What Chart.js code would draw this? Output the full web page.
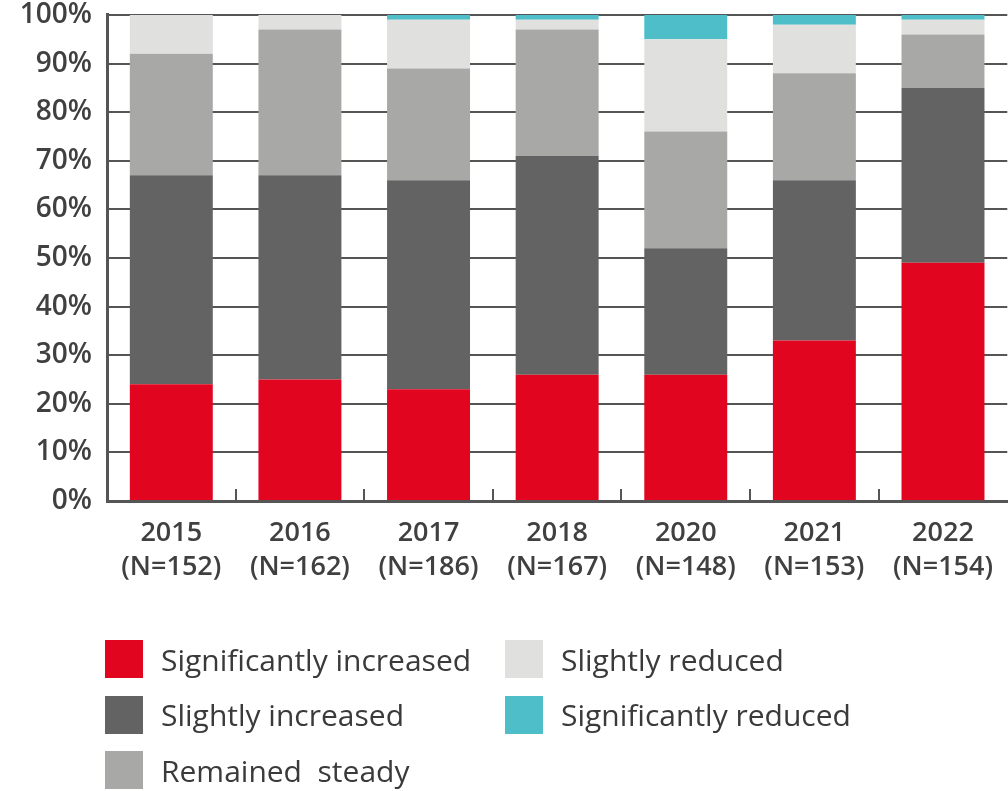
<!DOCTYPE html>
<html>
<head>
<meta charset="utf-8">
<script src="https://cdn.jsdelivr.net/npm/chart.js@4.4.1/dist/chart.umd.min.js"></script>
<style>
  html, body { margin: 0; padding: 0; background: #fff; }
  #wrap { position: relative; width: 1008px; height: 791px; }
  #legend {
    position: absolute; left: 105px; top: 640px;
    display: grid; grid-template-columns: 400px auto;
    grid-auto-rows: 38px; row-gap: 17.5px;
    font-family: "Open Sans", sans-serif; font-size: 30px; font-weight: 500; color: #3a3a3a;
  }
  .item { display: flex; align-items: center; white-space: pre; }
  .box { width: 38px; height: 38px; margin-right: 18px; flex: none; }
</style>
</head>
<body>
<div id="wrap">
  <canvas id="chart" width="1008" height="791"></canvas>
  <div id="legend"></div>
</div>
<script>
const years = ['2015', '2016', '2017', '2018', '2020', '2021', '2022'];
const sampleSizes = ['(N=152)', '(N=162)', '(N=186)', '(N=167)', '(N=148)', '(N=153)', '(N=154)'];

const significantlyIncreased = [24, 25, 23, 26, 26, 33, 49];
const slightlyIncreased = [43, 42, 43, 45, 26, 33, 36];
const remainedSteady = [25, 30, 23, 26, 24, 22, 11];
const slightlyReduced = [8, 3, 10, 2, 19, 10, 3];
const significantlyReduced = [0, 0, 1, 1, 5, 2, 1];

const yTicks = [0, 10, 20, 30, 40, 50, 60, 70, 80, 90, 100];

// legend reads down the first column, then the second
const legendOrder = [0, 3, 1, 4, 2];

const textColor = '#404040';
const axisColor = '#555';

// short upward ticks on the x axis between the bars
const betweenTicks = {
  id: 'betweenTicks',
  afterDatasetsDraw(chart) {
    const x = chart.scales.x;
    const bottom = chart.chartArea.bottom;
    const ctx = chart.ctx;
    ctx.save();
    ctx.strokeStyle = axisColor;
    ctx.lineWidth = 2;
    for (let i = 0; i < years.length - 1; i++) {
      const px = Math.round((x.getPixelForValue(i) + x.getPixelForValue(i + 1)) / 2);
      ctx.beginPath();
      ctx.moveTo(px, bottom);
      ctx.lineTo(px, bottom - 12);
      ctx.stroke();
    }
    ctx.restore();
  }
};

const labels = years.map((y, i) => [y, sampleSizes[i]]);

const chart = new Chart(document.getElementById('chart'), {
  type: 'bar',
  data: {
    labels: labels,
    datasets: [
      { label: 'Significantly increased', data: significantlyIncreased, backgroundColor: '#e20520' },
      { label: 'Slightly increased', data: slightlyIncreased, backgroundColor: '#636363' },
      { label: 'Remained  steady', data: remainedSteady, backgroundColor: '#a8a8a7' },
      { label: 'Slightly reduced', data: slightlyReduced, backgroundColor: '#e0e0df' },
      { label: 'Significantly reduced', data: significantlyReduced, backgroundColor: '#4ebfc8' }
    ]
  },
  options: {
    responsive: false,
    animation: false,
    layout: { padding: { top: 0, right: 0, bottom: 0, left: 0 } },
    datasets: {
      bar: { categoryPercentage: 1, barPercentage: 0.645, borderWidth: 0 }
    },
    plugins: {
      legend: { display: false },
      tooltip: { enabled: false }
    },
    scales: {
      x: {
        stacked: true,
        grid: { display: false, drawTicks: false },
        border: { display: true, color: axisColor, width: 3 },
        ticks: {
          color: textColor,
          padding: 15,
          maxRotation: 0,
          font: { family: 'Open Sans', size: 27, weight: '600', lineHeight: 1.27 }
        },
        afterFit(scale) { scale.height = 290; }
      },
      y: {
        stacked: true,
        min: 0,
        max: 100,
        afterBuildTicks(scale) { scale.ticks = yTicks.map(v => ({ value: v })); },
        // invisible tick marks keep the gap between labels and axis
        grid: { color: axisColor, lineWidth: 2, drawTicks: true, tickLength: 15, tickColor: 'rgba(0,0,0,0)' },
        border: { display: true, color: axisColor, width: 3 },
        ticks: {
          color: textColor,
          padding: 0,
          font: { family: 'Open Sans', size: 28, weight: '600', lineHeight: 1.07 },
          callback: v => v + '%'
        },
        afterFit(scale) { scale.width = 107; }
      }
    }
  },
  plugins: [betweenTicks]
});

// legend built from the chart's own datasets
const legendEl = document.getElementById('legend');
legendOrder.forEach(i => {
  const ds = chart.data.datasets[i];
  const item = document.createElement('div');
  item.className = 'item';
  const box = document.createElement('span');
  box.className = 'box';
  box.style.background = ds.backgroundColor;
  const text = document.createElement('span');
  text.textContent = ds.label;
  item.appendChild(box);
  item.appendChild(text);
  legendEl.appendChild(item);
});
</script>
</body>
</html>
